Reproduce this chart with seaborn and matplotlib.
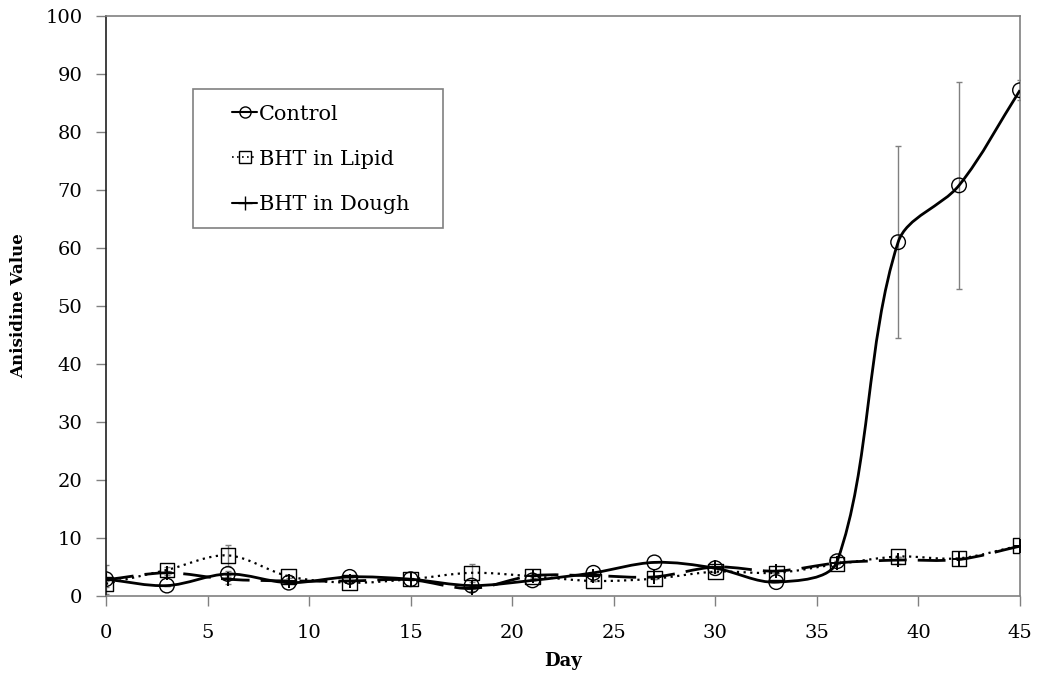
import numpy as np
import pandas as pd
import matplotlib
matplotlib.use("Agg")
import matplotlib.pyplot as plt
import seaborn as sns
from matplotlib.path import Path
from matplotlib.patches import PathPatch, Rectangle
from matplotlib.lines import Line2D

days = [0, 3, 6, 9, 12, 15, 18, 21, 24, 27, 30, 33, 36, 39, 42, 45]
control = [2.9, 1.8, 3.8, 2.3, 3.3, 2.9, 1.8, 2.7, 4.0, 5.8, 4.8, 2.4, 6.0, 61.0, 70.8, 87.2]
control_err = [2.5, 0, 0.5, 0, 0, 0, 0, 0, 0, 0, 0, 0, 0, 16.5, 17.8, 1.7]
lipid = [2.1, 4.5, 7.0, 3.4, 2.3, 2.9, 4.0, 3.4, 2.6, 3.0, 4.2, 4.0, 5.5, 6.8, 6.5, 8.7]
lipid_err = [0.5, 0.5, 1.8, 0.3, 0, 0, 1.5, 0.3, 0, 0, 0, 0, 0, 0, 0, 0]
dough = [2.8, 4.0, 2.9, 2.6, 2.6, 2.8, 1.3, 3.5, 3.5, 3.3, 5.0, 4.3, 5.7, 6.2, 6.3, 8.6]
dough_err = [0, 0.3, 0.8, 0, 0, 0, 0.5, 0, 0, 0, 0, 0, 0, 0.6, 0, 0]
series_names = ["Control", "BHT in Lipid", "BHT in Dough"]
x_ticks = [0, 5, 10, 15, 20, 25, 30, 35, 40, 45]
y_ticks = [0, 10, 20, 30, 40, 50, 60, 70, 80, 90, 100]

sns.set_style("white")
plt.rcParams["font.family"] = ["DejaVu Serif"]
plt.rcParams["text.color"] = "black"
plt.rcParams["axes.labelcolor"] = "black"
plt.rcParams["xtick.labelcolor"] = "black"
plt.rcParams["ytick.labelcolor"] = "black"

fig = plt.figure(figsize=(10.39, 6.77), dpi=100)
ax = fig.add_axes([0.102, 0.1196, 0.8797, 0.8568])
ax.set_xlim(0, 45)
ax.set_ylim(0, 100)

df = pd.DataFrame({
    "day": days * 3,
    "value": control + lipid + dough,
    "series": [series_names[0]] * len(days) + [series_names[1]] * len(days) + [series_names[2]] * len(days),
})

# screen scale (pixels per data unit) used to weight the smoothing like a spreadsheet smooth line
SX, SY = 914 / 45.0, 580 / 100.0


def smooth_path(xs, ys, t=1.0 / 3.0):
    pts = np.column_stack([xs, ys]).astype(float)
    n = len(pts)

    def dist(a, b):
        return np.hypot((a[0] - b[0]) * SX, (a[1] - b[1]) * SY)

    verts = [pts[0]]
    codes = [Path.MOVETO]
    for i in range(n - 1):
        p0 = pts[i - 1] if i > 0 else pts[i]
        p1 = pts[i]
        p2 = pts[i + 1]
        p3 = pts[i + 2] if i + 2 < n else pts[i + 1]
        d01, d12, d23 = dist(p0, p1), dist(p1, p2), dist(p2, p3)
        w1 = d12 / (d01 + d12) if (d01 + d12) > 0 else 0.5
        w2 = d12 / (d12 + d23) if (d12 + d23) > 0 else 0.5
        c1 = p1 + t * w1 * (p2 - p0)
        c2 = p2 - t * w2 * (p3 - p1)
        verts += [c1, c2, p2]
        codes += [Path.CURVE4] * 3
    return Path(verts, codes)


styles = {
    "Control": dict(ls="-", lw=2.0, err=control_err, vals=control),
    "BHT in Lipid": dict(ls=(0, (1, 2)), lw=1.6, err=lipid_err, vals=lipid),
    "BHT in Dough": dict(ls=(0, (10, 4)), lw=2.0, err=dough_err, vals=dough),
}

grey = "#808080"
for name in series_names:
    st = styles[name]
    ax.errorbar(days, st["vals"], yerr=st["err"], fmt="none", ecolor=grey,
                elinewidth=1.0, capsize=2, capthick=1.0, zorder=2)
    patch = PathPatch(smooth_path(days, st["vals"]), facecolor="none", edgecolor="black",
                      lw=st["lw"], linestyle=st["ls"], zorder=3, capstyle="butt")
    ax.add_patch(patch)

sub = df[df.series == "Control"]
sns.scatterplot(data=sub, x="day", y="value", marker="o", s=110, facecolors="none",
                edgecolor="black", linewidth=1.0, ax=ax, zorder=4)
sub = df[df.series == "BHT in Lipid"]
sns.scatterplot(data=sub, x="day", y="value", marker="s", s=110, facecolors="none",
                edgecolor="black", linewidth=1.0, ax=ax, zorder=4)
sub = df[df.series == "BHT in Dough"]
sns.scatterplot(data=sub, x="day", y="value", marker="+", s=110, color="black",
                linewidth=1.4, ax=ax, zorder=5)

ax.set_xlim(0, 45)
ax.set_ylim(0, 100)
ax.set_xticks(x_ticks)
ax.set_yticks(y_ticks)
ax.set_xlabel("Day", fontsize=13, fontweight="bold", labelpad=7)
ax.set_ylabel("Anisidine Value", fontsize=12, fontweight="bold", labelpad=13)
ax.tick_params(axis="both", labelsize=14, direction="out", length=7, width=1.0, color=grey,
               bottom=True, left=True)
ax.tick_params(axis="x", pad=13)
ax.tick_params(axis="y", pad=10)
for side in ["top", "right", "bottom"]:
    ax.spines[side].set_visible(True)
    ax.spines[side].set_color(grey)
    ax.spines[side].set_linewidth(1.2)
ax.spines["left"].set_color("#202020")
ax.spines["left"].set_linewidth(1.2)
ax.grid(False)

# legend frame
ax.add_patch(Rectangle((0.0952, 0.6345), 0.3687 - 0.0952, 0.8741 - 0.6345, transform=ax.transAxes,
                       facecolor="white", edgecolor=grey, lw=1.2, zorder=6))

handles = [
    Line2D([], [], color="black", lw=1.5, ls="-", marker="o", markersize=8, markerfacecolor="none"),
    Line2D([], [], color="black", lw=1.2, ls=(0, (1, 2)), marker="s", markersize=8, markerfacecolor="none"),
    Line2D([], [], color="black", lw=1.5, ls="-", marker="+", markersize=10),
]
leg = ax.legend(handles, series_names, loc="upper left", bbox_to_anchor=(0.1379, 0.847),
                fontsize=15, frameon=False, handlelength=1.2, handletextpad=0.1,
                labelspacing=1.25, borderpad=0, borderaxespad=0)
leg.set_zorder(7)

fig.savefig("out.png", dpi=100)
